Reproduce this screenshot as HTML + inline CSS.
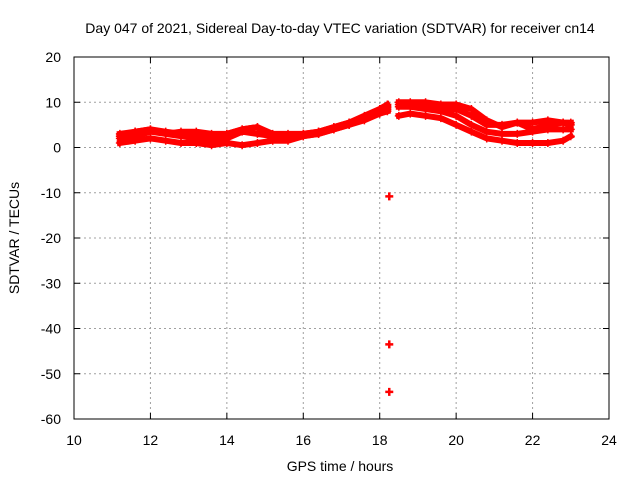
<!DOCTYPE html>
<html><head><meta charset="utf-8"><style>
body{margin:0;background:#fff;}
svg text{font-family:"Liberation Sans",sans-serif;font-size:14px;fill:#000;}
</style></head><body>
<svg id="chart" width="640" height="480">
<text x="340" y="33" text-anchor="middle">Day 047 of 2021, Sidereal Day-to-day VTEC variation (SDTVAR) for receiver cn14</text>
<text x="340" y="471" text-anchor="middle">GPS time / hours</text>
<text transform="translate(19,238) rotate(-90)" text-anchor="middle">SDTVAR / TECUs</text>
<g id="grid"></g><g id="axes"></g><g id="marks"></g>
</svg>
<script>
const times=[11.2,11.6,12.0,12.4,12.8,13.2,13.6,14.0,14.4,14.8,15.2,15.6,16.0,16.4,16.8,17.2,17.6,18.0,18.2,18.5,18.8,19.2,19.6,20.0,20.4,20.8,21.2,21.6,22.0,22.4,22.8,23.0];
const seriesA=[2.5,3.5,4,3,3.5,3.5,3,3,4,4.5,3,3,3,3.5,4.5,5.5,6.5,8,9,9.5,9.5,9,8.5,8.5,7,5,5,5.5,5.5,6,5.5,5];
const seriesB=[1,1.5,2,1.5,1,1,0.5,1,0.5,1,1.5,1.5,2.5,3,4,5,6,7.5,8,7,7.5,7,6.5,5,3.5,2,1.5,1,1,1,1.5,2.5];
const seriesC=[2,2.5,3.5,3,2.5,2,1.5,2,3.5,3,2.5,2.5,2.5,3,4,5,6.5,7.5,8.5,9,9,8.5,8,7,5,3.5,3,3,3.5,4,4,4];
const seriesD=[3,3.5,4,3.5,3,3,2.5,3,4,4.5,2,2,3,3.5,4.5,5.5,7,8.5,9.5,10,10,10,9.5,9.5,8.5,6,4.5,5.5,4,5,5.5,5.5];
const dataGapTime=18.3;
const outlierTimes=[18.25,18.25,18.25];
const outlierValues=[-10.8,-43.5,-54];
const xTicks=[10,12,14,16,18,20,22,24];
const yTicks=[20,10,0,-10,-20,-30,-40,-50,-60];
const NS='http://www.w3.org/2000/svg';
const X0=74,X1=609,Y0=57,Y1=419;
const xs=v=>X0+(v-10)/14*(X1-X0);
const ys=v=>Y0+(20-v)/80*(Y1-Y0);
function mk(tag,attrs,parent){const e=document.createElementNS(NS,tag);for(const k in attrs)e.setAttribute(k,attrs[k]);parent.appendChild(e);return e;}
const grid=document.getElementById('grid'),axes=document.getElementById('axes'),marks=document.getElementById('marks');
xTicks.forEach(t=>{
  const x=xs(t);
  if(t>10&&t<24){const g=mk('line',{x1:x,x2:x,y1:Y0,y2:Y1,stroke:'#a0a0a0','stroke-dasharray':'2,3'},grid);
  
  }
  mk('line',{x1:x,x2:x,y1:Y1,y2:Y1-6,stroke:'#000'},axes);
  mk('line',{x1:x,x2:x,y1:Y0,y2:Y0+6,stroke:'#000'},axes);
  const tx=mk('text',{x:x,y:Y1+26,'text-anchor':'middle'},axes);tx.textContent=t;
  
  
});
yTicks.forEach(t=>{
  const y=ys(t);
  if(t<20&&t>-60){const g=mk('line',{x1:X0,x2:X1,y1:y,y2:y,stroke:'#a0a0a0','stroke-dasharray':'2,3'},grid);
  
  }
  mk('line',{x1:X0,x2:X0+6,y1:y,y2:y,stroke:'#000'},axes);
  mk('line',{x1:X1,x2:X1-6,y1:y,y2:y,stroke:'#000'},axes);
  const tx=mk('text',{x:X0-13,y:y+5,'text-anchor':'end'},axes);tx.textContent=t;
  
  
});
const frame=mk('rect',{x:X0,y:Y0,width:X1-X0,height:Y1-Y0,fill:'none',stroke:'#000'},axes);


function plus(x,y,parent,w){mk('path',{d:`M${x-4},${y}h8M${x},${y-4}v8`,stroke:'#f00','stroke-width':w||1.5},parent);}
[seriesA,seriesB,seriesC,seriesD].forEach((s,i)=>{
  const g=mk('g',{},marks);
  
  
  let segs=[[]];
  s.forEach((v,j)=>{
    if(j>0&&times[j-1]<dataGapTime&&times[j]>dataGapTime)segs.push([]);
    segs[segs.length-1].push(xs(times[j]).toFixed(1)+','+ys(v).toFixed(1));
  });
  segs.forEach(pts=>{
    mk('polyline',{points:pts.join(' '),fill:'none',stroke:'#ff0000','stroke-width':6,'stroke-linejoin':'round','stroke-linecap':'square'},g);
  });
  s.forEach((v,j)=>plus(xs(times[j]),ys(v),g));
});
outlierValues.forEach((v,i)=>{
  const g=mk('g',{},marks);
  
  
  plus(xs(outlierTimes[i]),ys(v),g,2.5);
});
</script>
</body></html>
